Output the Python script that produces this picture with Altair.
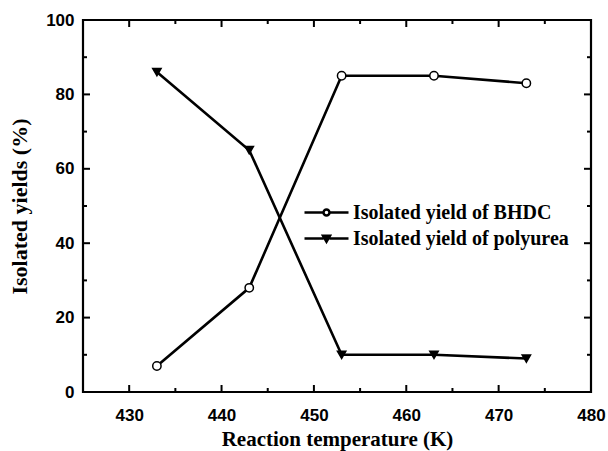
import altair as alt
import pandas as pd

# ---- data ----
temps = [433, 443, 453, 463, 473]
bhdc = [7, 28, 85, 85, 83]
polyurea = [86, 65, 10, 10, 9]
series_names = ["Isolated yield of BHDC", "Isolated yield of polyurea"]

x_major = [430, 440, 450, 460, 470]
x_minor = [435, 445, 455, 465, 475]
y_major = [20, 40, 60, 80]
y_minor = [10, 30, 50, 70, 90]
x_labels = [430, 440, 450, 460, 470, 480]
y_labels = [0, 20, 40, 60, 80, 100]

W, H = 508, 372

df = pd.DataFrame({
    "T": temps * 2,
    "yield": bhdc + polyurea,
    "series": [series_names[0]] * len(temps) + [series_names[1]] * len(temps),
})

xscale = alt.Scale(domain=[425, 480], nice=False, zero=False)
yscale = alt.Scale(domain=[0, 100], nice=False)

xenc = alt.X("T:Q", scale=xscale, axis=alt.Axis(
    values=x_labels, title="Reaction temperature (K)", labelBaseline="alphabetic",
    labelPadding=28, titleY=53, titleBaseline="alphabetic", labelFlush=False,
    labelOverlap=False, format="d", titleFontSize=21))
yenc = alt.Y("yield:Q", scale=yscale, axis=alt.Axis(
    values=y_labels, title="Isolated yields (%)", labelPadding=9, titleX=-57,
    titleBaseline="alphabetic", labelOverlap=False, format="d", titleFontSize=22))

base = alt.Chart(df)

lines = base.mark_line(color="black", strokeWidth=2.6).encode(
    x=xenc, y=yenc, detail="series:N")

circle_path = "M-2.2,0H-0.3M0.3,0H2.2M-0.3,0A0.3,0.3,0,1,0,0.3,0A0.3,0.3,0,1,0,-0.3,0Z"
tri_path = "M-2.2,0H-0.3M0.3,0H2.2M-0.35,-0.28L0.35,-0.28L0,0.32Z"


def make_legend(path, fillc, ly):
    return alt.Legend(
        title=None, orient="none", legendX=232, legendY=ly, padding=0,
        symbolType=path, symbolSize=400, symbolStrokeWidth=2.5,
        symbolStrokeColor="black", symbolFillColor=fillc, symbolOpacity=1,
        labelFont="Liberation Serif", labelFontWeight="bold", labelFontSize=20,
        labelColor="black", labelOffset=15, labelLimit=400,
    )


def point_layer(name, shape, fillc, path, ly):
    return base.transform_filter(alt.datum.series == name).mark_point(
        shape=shape, size=70, strokeWidth=1.5, opacity=1, filled=False, fill=fillc, fillOpacity=1,
    ).encode(
        x=alt.X("T:Q", scale=xscale),
        y=alt.Y("yield:Q", scale=yscale),
        color=alt.Color("series:N", scale=alt.Scale(domain=[name], range=["black"]),
                        legend=make_legend(path, fillc, ly)),
    )


pts_bhdc = point_layer(series_names[0], "circle", "white", circle_path, 181)
pts_poly = point_layer(series_names[1], "triangle-down", "black", tri_path, 207)

# inward ticks on all four sides
def xticks(vals, length):
    c = alt.Chart(pd.DataFrame({"v": vals}))
    bottom = c.mark_rule(color="black", strokeWidth=2).encode(
        x=alt.X("v:Q", scale=xscale), y=alt.value(H), y2=alt.value(H - length))
    top = c.mark_rule(color="black", strokeWidth=2).encode(
        x=alt.X("v:Q", scale=xscale), y=alt.value(0), y2=alt.value(length))
    return [bottom, top]


def yticks(vals, length):
    c = alt.Chart(pd.DataFrame({"v": vals}))
    left = c.mark_rule(color="black", strokeWidth=2).encode(
        y=alt.Y("v:Q", scale=yscale), x=alt.value(0), x2=alt.value(length))
    right = c.mark_rule(color="black", strokeWidth=2).encode(
        y=alt.Y("v:Q", scale=yscale), x=alt.value(W), x2=alt.value(W - length))
    return [left, right]


tick_layers = xticks(x_major, 7) + xticks(x_minor, 4) + yticks(y_major, 7) + yticks(y_minor, 4)

chart = alt.layer(lines, pts_bhdc, pts_poly, *tick_layers).resolve_scale(
    color="independent"
).properties(
    width=W, height=H,
    autosize=alt.AutoSizeParams(type="none"),
    padding={"left": 83, "top": 20, "right": 17, "bottom": 59},
    background="white",
).configure_view(
    stroke="black", strokeWidth=2.2
).configure_axis(
    labelFont="Liberation Sans", labelFontWeight="bold", labelFontSize=17, labelColor="black",
    titleFont="Liberation Serif", titleFontWeight="bold", titleFontSize=21, titleColor="black",
    grid=False, domain=False, ticks=False, tickSize=0,
)

chart.save("out.html", embed_options={"renderer": "svg", "actions": False})
